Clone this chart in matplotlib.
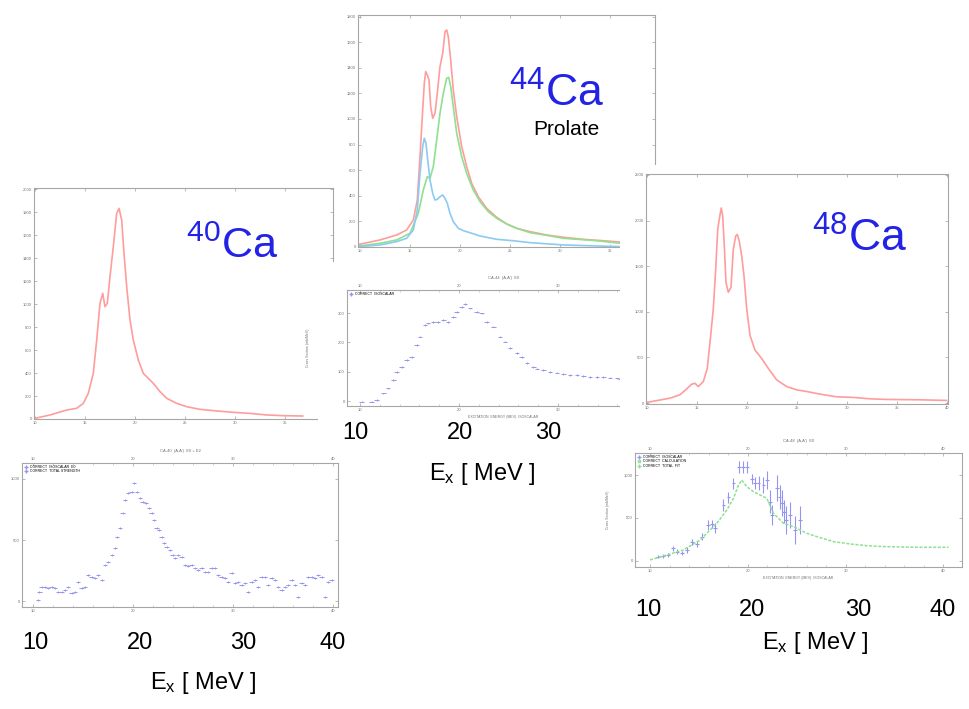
import matplotlib
matplotlib.use('Agg')
import matplotlib.pyplot as plt

plt.rcParams['font.family'] = ['Liberation Sans', 'DejaVu Sans']
plt.rcParams['mathtext.fontset'] = 'custom'
plt.rcParams['mathtext.rm'] = 'Liberation Sans'
plt.rcParams['mathtext.it'] = 'Liberation Sans:italic'

# ---- 40Ca strength function (upper left)
ca40_e = [10.0, 11.5, 13.17, 14.17, 14.83, 15.33, 15.83, 16.17, 16.5, 16.77, 17.0, 17.23, 17.5,
          17.83, 18.17, 18.4, 18.67, 18.9, 19.17, 19.5, 19.83, 20.33, 20.83, 21.33, 21.83, 22.5,
          23.17, 24.17, 25.17, 26.5, 28.17, 29.83, 31.5, 33.17, 34.83, 36.77]
ca40_s = [6, 35, 78, 93, 136, 223, 397, 687, 1006, 1093, 977, 1006, 1238, 1499, 1788, 1832, 1730,
          1441, 1151, 861, 687, 513, 397, 354, 310, 238, 180, 136, 107, 84, 70, 58, 49, 35, 29, 26]

# ---- 40Ca data (lower left)
ca40_exp_e = [10.53, 10.63, 10.87, 11.2, 11.53, 11.87, 12.2, 12.53, 12.87, 13.2, 13.53, 13.87, 14.2,
              14.53, 14.87, 15.2, 15.53, 15.87, 16.2, 16.53, 16.87, 17.2, 17.53, 17.87, 18.2, 18.43,
              18.7, 18.97, 19.2, 19.53, 19.87, 20.13, 20.43, 20.7, 20.97, 21.3, 21.63, 21.87, 22.1,
              22.37, 22.63, 22.87, 23.1, 23.37, 23.7, 23.97, 24.2, 24.53, 24.87, 25.2, 25.53, 25.87,
              26.2, 26.53, 26.87, 27.2, 27.53, 27.87, 28.2, 28.53, 28.87, 29.2, 29.53, 29.87, 30.2,
              30.53, 30.87, 31.2, 31.53, 31.87, 32.2, 32.53, 32.87, 33.2, 33.53, 33.87, 34.2, 34.53,
              34.87, 35.2, 35.53, 35.87, 36.2, 36.53, 36.87, 37.2, 37.53, 37.87, 38.2, 38.53, 38.87,
              39.2, 39.53, 39.87]
ca40_exp_s = [8, 77, 117, 117, 104, 117, 104, 77, 77, 90, 117, 68, 77, 158, 104, 117, 213, 199, 186,
              213, 172, 295, 322, 377, 432, 527, 596, 719, 828, 882, 896, 964, 896, 841, 814, 800,
              760, 719, 664, 596, 582, 527, 473, 445, 418, 377, 350, 377, 363, 295, 287, 295, 268,
              254, 268, 240, 240, 268, 268, 213, 199, 186, 158, 227, 145, 158, 131, 145, 77, 158,
              172, 117, 199, 199, 131, 186, 172, 117, 90, 117, 131, 172, 131, 36, 145, 131, 199,
              199, 186, 213, 199, 36, 158, 172]

# ---- 44Ca prolate strength (upper middle)
ca44_red_e = [9.93, 12.0, 13.67, 14.67, 15.33, 15.73, 16.0, 16.27, 16.43, 16.57, 16.73, 16.9, 17.07,
              17.27, 17.5, 17.73, 18.0, 18.27, 18.5, 18.67, 18.83, 19.07, 19.33, 19.67, 20.17,
              20.67, 21.17, 21.83, 22.67, 23.67, 24.67, 25.67, 27.0, 28.67, 30.33, 32.33, 34.33, 36.0]
ca44_red_s = [21, 55, 94, 133, 211, 367, 706, 1070, 1279, 1370, 1344, 1305, 1096, 1005, 1044, 1200,
              1409, 1513, 1682, 1695, 1643, 1461, 1227, 1018, 784, 628, 497, 393, 302, 232, 180, 146,
              120, 94, 76, 60, 49, 39]
ca44_blue_e = [9.93, 12.0, 13.67, 14.67, 15.33, 15.73, 16.0, 16.27, 16.43, 16.6, 16.77, 17.0, 17.27,
               17.5, 17.73, 18.0, 18.27, 18.5, 18.73, 19.0, 19.33, 19.83, 20.33, 21.17, 22.0, 23.67,
               25.33, 27.0, 30.33, 36.0]
ca44_blue_s = [3, 16, 42, 68, 133, 289, 575, 784, 849, 810, 680, 523, 419, 367, 372, 393, 406, 380,
               341, 263, 198, 146, 128, 107, 86, 60, 49, 34, 16, 3]
ca44_green_e = [9.93, 12.0, 13.67, 15.0, 15.83, 16.33, 16.73, 17.0, 17.33, 17.67, 18.0, 18.33, 18.67,
                18.87, 19.07, 19.33, 19.67, 20.17, 20.67, 21.33, 22.0, 22.83, 23.67, 24.67, 25.67,
                27.0, 28.67, 30.33, 33.67, 36.0]
ca44_green_s = [8, 29, 55, 107, 263, 445, 549, 536, 628, 836, 1044, 1200, 1318, 1325, 1253, 1096,
                888, 706, 575, 445, 354, 276, 224, 180, 146, 112, 91, 68, 49, 29]

# ---- 44Ca data (lower middle)
ca44_exp_e = [10.17, 11.18, 11.68, 12.36, 12.86, 13.37, 13.7, 14.21, 14.71, 15.22, 15.72, 16.06,
              16.57, 16.9, 17.41, 17.91, 18.42, 18.92, 19.43, 19.76, 20.27, 20.61, 21.11, 21.78,
              22.29, 22.79, 23.47, 24.14, 24.65, 25.15, 25.83, 26.33, 26.84, 27.51, 27.85, 28.52,
              29.19, 29.87, 30.54, 31.21, 31.89, 32.56, 33.23, 33.91, 34.58, 35.25, 35.93, 36.26]
ca44_exp_s = [-2, -2, 3, 26, 43, 72, 100, 117, 140, 149, 191, 220, 259, 265, 271, 271, 276, 271,
              288, 305, 322, 331, 316, 305, 299, 271, 254, 220, 203, 180, 163, 151, 129, 117, 111,
              106, 100, 97, 92, 89, 89, 85, 83, 81, 81, 80, 77, 74]

# ---- 48Ca strength (upper right)
ca48_e = [9.97, 12.3, 13.3, 13.97, 14.47, 14.8, 15.13, 15.63, 16.03, 16.37, 16.63, 16.87, 17.07,
          17.3, 17.43, 17.57, 17.73, 17.9, 18.13, 18.4, 18.63, 18.87, 19.03, 19.23, 19.47, 19.7,
          19.97, 20.3, 20.8, 21.47, 22.13, 22.97, 23.97, 24.97, 25.97, 27.3, 28.97, 30.63, 32.3,
          33.97, 37.3, 39.97]
ca48_s = [7, 54, 91, 156, 207, 217, 181, 236, 380, 743, 1033, 1467, 1902, 2065, 2138, 2047, 1721,
          1322, 1214, 1268, 1685, 1830, 1848, 1775, 1612, 1395, 1033, 743, 580, 489, 380, 254, 181,
          145, 127, 98, 69, 62, 47, 40, 36, 29]

# ---- 48Ca data (lower right)
ca48_exp_e = [10.85, 11.36, 11.88, 12.39, 12.8, 13.24, 13.75, 14.26, 14.78, 15.29, 15.97, 16.31,
              16.65, 17.51, 18.02, 18.53, 19.14, 19.48, 19.9, 20.41, 20.75, 21.09, 21.6, 21.94,
              22.28, 22.45, 22.96, 23.24, 23.48, 23.72, 23.92, 24.33, 24.84, 25.35]
ca48_exp_s = [50, 58, 70, 147, 109, 89, 128, 225, 198, 283, 419, 430, 380, 651, 740, 903, 1089,
              1097, 1097, 950, 911, 903, 884, 942, 690, 535, 845, 748, 671, 574, 477, 535, 360, 477]
ca48_exp_err = [20, 20, 25, 30, 25, 25, 30, 35, 35, 40, 60, 50, 60, 70, 60, 60, 70, 70, 70, 60, 70,
                80, 90, 110, 130, 120, 150, 140, 150, 130, 160, 150, 160, 160]
ca48_fit_e = [10.0, 11.7, 13.41, 15.12, 16.82, 17.85, 18.53, 19.04, 19.38, 19.89, 20.58, 21.26,
              21.94, 22.62, 23.65, 24.67, 26.03, 27.06, 28.77, 30.47, 32.18, 33.88, 35.59, 37.29,
              39.0, 40.53]
ca48_fit_s = [12, 70, 128, 244, 438, 593, 729, 884, 942, 864, 806, 767, 729, 554, 438, 399, 322,
              283, 225, 198, 178, 167, 163, 159, 159, 159]

W, H = 970, 709
RED = '#ff9c9c'
SKY = '#8ccaf2'
GRN = '#8fe08f'
PTS = '#9494f2'
LABEL_BLUE = '#2323e6'

fig = plt.figure(figsize=(W / 100, H / 100), dpi=100)


def box(l, t, r, b, z):
    ax = fig.add_axes([l / W, 1 - b / H, (r - l) / W, (b - t) / H], zorder=z)
    return ax


def paper(l, t, r, b, z):
    # white "pasted picture" underneath a panel
    bg = box(l, t, r, b, z)
    bg.set_facecolor('white')
    bg.set_xticks([])
    bg.set_yticks([])
    for s in bg.spines.values():
        s.set_visible(False)


def style(ax, xt, yt, ylab, top_lab=False):
    for s in ax.spines.values():
        s.set_color('#a6a6a6')
        s.set_linewidth(0.8)
    ax.set_xticks(xt)
    ax.set_yticks(yt)
    ax.set_yticklabels(ylab)
    ax.tick_params(direction='in', length=2, width=0.5, colors='#a0a0a0', labelsize=3,
                   labelcolor='#707070', top=True, right=True, pad=1.5, labeltop=top_lab)


def figtext(x, y, s, **kw):
    fig.text(x / W, 1 - y / H, s, zorder=20, **kw)


# ---------------- 40Ca top
a1 = box(34, 188, 333, 419, 1)
a1.plot(ca40_e, ca40_s, color=RED, lw=1.2)
a1.set_xlim(9.9, 39.8)
a1.set_ylim(0, 2009)
style(a1, [10, 15, 20, 25, 30, 35], range(0, 2001, 200), [str(v) for v in range(0, 2001, 200)])

# ---------------- 40Ca bottom
a2 = box(22, 463, 338, 607, 1)
a2.errorbar(ca40_exp_e, ca40_exp_s, xerr=0.22, yerr=8, fmt='none', ecolor=PTS, elinewidth=0.7)
a2.set_xlim(8.9, 40.5)
a2.set_ylim(-49, 1131)
style(a2, [10, 20, 30, 40], [0, 500, 1000], ['0', '500', '1000'], top_lab=True)
a2.set_xticks(range(10, 41, 2), minor=True)
a2.tick_params(which='minor', direction='in', length=1.2, width=0.4, colors='#b0b0b0', top=True)
a2.set_title('CA-40  (A,A\')  E0 + E2', fontsize=3, color='#707070', pad=8)
a2.plot([], [], ls='none', marker='+', ms=3, color=PTS, label='CORRECT  ISOSCALAR  E0')
a2.plot([], [], ls='none', marker='+', ms=3, color=PTS, label='CORRECT  TOTAL STRENGTH')
a2.legend(loc='upper left', fontsize=2.5, frameon=False, handlelength=1, borderaxespad=0.2,
          labelspacing=0.1)

# ---------------- 44Ca top
paper(336, 0, 662, 262, 1.9)
b1 = box(358, 15, 655, 247, 2)
b1.plot(ca44_red_e, ca44_red_s, color=RED, lw=1.2)
b1.plot(ca44_green_e, ca44_green_s, color=GRN, lw=1.2)
b1.plot(ca44_blue_e, ca44_blue_s, color=SKY, lw=1.2)
b1.set_xlim(9.8, 39.5)
b1.set_ylim(0, 1812)
style(b1, [10, 15, 20, 25, 30, 35], range(0, 1801, 200), [str(v) for v in range(0, 1801, 200)])

# ---------------- 44Ca bottom
paper(318, 262, 622, 421, 2.9)
b2 = box(347, 290, 660, 406, 3)
b2.errorbar(ca44_exp_e, ca44_exp_s, xerr=0.22, yerr=3, fmt='none', ecolor=PTS, elinewidth=0.7)
b2.set_xlim(8.69, 40.3)
b2.set_ylim(-17, 379)
style(b2, [10, 20, 30, 40], [0, 100, 200, 300], ['0', '100', '200', '300'], top_lab=True)
b2.set_xticks(range(10, 41, 2), minor=True)
b2.tick_params(which='minor', direction='in', length=1.2, width=0.4, colors='#b0b0b0', top=True)
b2.set_title('CA-44  (A,A\')  E0', fontsize=3, color='#707070', pad=8)
b2.set_ylabel('Cross Section (mb/MeV)', fontsize=2.5, color='#707070', labelpad=20)
b2.set_xlabel('EXCITATION  ENERGY (MEV)  ISOSCALAR', fontsize=2.5, color='#707070', labelpad=2)
b2.plot([], [], ls='none', marker='+', ms=3, color=PTS, label='CORRECT  ISOSCALAR')
b2.legend(loc='upper left', fontsize=2.5, frameon=False, handlelength=1, borderaxespad=0.2)

# ---------------- 48Ca top
paper(620, 165, 970, 421, 3.9)
c1 = box(646, 174, 948, 404, 4)
c1.plot(ca48_e, ca48_s, color=RED, lw=1.2)
c1.set_xlim(9.9, 40.1)
c1.set_ylim(-10, 2510)
style(c1, [10, 15, 20, 25, 30, 35, 40], range(0, 2501, 500), [str(v) for v in range(0, 2501, 500)])

# ---------------- 48Ca bottom
paper(600, 428, 970, 578, 3.9)
c2 = box(635, 453, 962, 567, 4)
c2.errorbar(ca48_exp_e, ca48_exp_s, yerr=ca48_exp_err, xerr=0.2, fmt='none', ecolor=PTS,
            elinewidth=0.8)
c2.plot(ca48_fit_e, ca48_fit_s, color=GRN, lw=1.1, ls=(0, (2, 1)))
c2.set_xlim(8.46, 41.9)
c2.set_ylim(-70, 1256)
style(c2, [10, 20, 30, 40], [0, 500, 1000], ['0', '500', '1000'], top_lab=True)
c2.set_xticks(range(10, 41, 2), minor=True)
c2.tick_params(which='minor', direction='in', length=1.2, width=0.4, colors='#b0b0b0', top=True)
c2.set_title('CA-48  (A,A\')  E0', fontsize=3, color='#707070', pad=8)
c2.set_ylabel('Cross Section (mb/MeV)', fontsize=2.5, color='#707070', labelpad=10)
c2.set_xlabel('EXCITATION  ENERGY (MEV)  ISOSCALAR', fontsize=2.5, color='#707070', labelpad=2)
c2.plot([], [], ls='none', marker='+', ms=3, color=PTS, label='CORRECT  ISOSCALAR')
c2.plot([], [], ls='none', marker='s', ms=2, mfc='none', color=GRN, label='CORRECT  CALCULATION')
c2.plot([], [], ls='none', marker='+', ms=3, color=GRN, label='CORRECT  TOTAL  FIT')
c2.legend(loc='upper left', fontsize=2.5, frameon=False, handlelength=1, borderaxespad=0.2,
          labelspacing=0.1)

# ---------------- big labels
figtext(186, 258, r'$^{40}$Ca', fontsize=31, color=LABEL_BLUE, ha='left', va='baseline')
figtext(509, 107, r'$^{44}$Ca', fontsize=32, color=LABEL_BLUE, ha='left', va='baseline')
figtext(533, 135, 'Prolate', fontsize=15, color='black', ha='left', va='baseline')
figtext(812, 252, r'$^{48}$Ca', fontsize=32, color=LABEL_BLUE, ha='left', va='baseline')

for x, s in zip([35, 140, 243, 333], ['10', '20', '30', '40']):
    figtext(x, 643, s, fontsize=17, ha='center', va='center')
figtext(203, 683, r'E$_{\mathrm{x}}$ [ MeV ]', fontsize=17, ha='center', va='center')

for x, s in zip([355, 460, 548], ['10', '20', '30']):
    figtext(x, 433, s, fontsize=17, ha='center', va='center')
figtext(482, 474, r'E$_{\mathrm{x}}$ [ MeV ]', fontsize=17, ha='center', va='center')

for x, s in zip([648, 752, 858, 943], ['10', '20', '30', '40']):
    figtext(x, 610, s, fontsize=17, ha='center', va='center')
figtext(815, 643, r'E$_{\mathrm{x}}$ [ MeV ]', fontsize=17, ha='center', va='center')

fig.savefig('out.png', dpi=100)
